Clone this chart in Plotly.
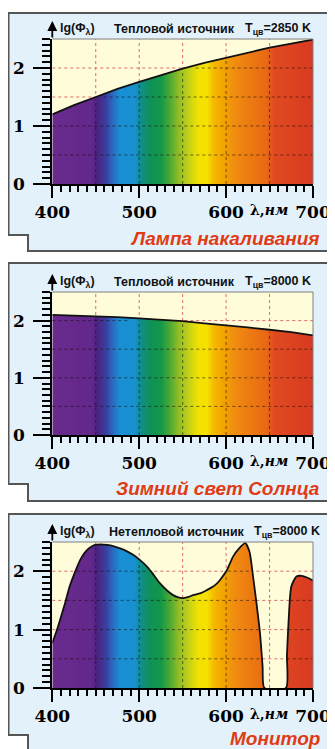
import numpy as np
import plotly.graph_objects as go

# the page body has an 8px margin, so the figure is drawn 8px smaller and offset
OFF = 8
W, H = 335 - OFF, 749 - OFF

# ---------------- data ----------------
lamp_wl = [400, 425, 450, 475, 500, 525, 550, 575, 600, 625, 650, 675, 700]
lamp_lg = [1.20, 1.36, 1.50, 1.64, 1.76, 1.88, 1.99, 2.09, 2.18, 2.27, 2.35, 2.42, 2.49]

sun_wl = [400, 425, 450, 475, 500, 525, 550, 575, 600, 625, 650, 675, 700]
sun_lg = [2.10, 2.09, 2.08, 2.06, 2.04, 2.02, 1.99, 1.95, 1.92, 1.88, 1.84, 1.80, 1.74]

mon_wl = [400, 405, 409, 415, 420, 426, 432, 437, 442, 449, 456, 463, 470, 478, 486,
          493, 501, 509, 516, 524, 532, 539, 545, 551, 557, 562, 570, 576, 582, 588,
          593, 601, 608, 615, 622, 627, 631, 635, 639, 642, 644, 669, 670, 672, 675,
          681, 687, 695, 700]
mon_lg = [0.77, 0.98, 1.17, 1.47, 1.74, 1.98, 2.19, 2.31, 2.39, 2.45, 2.46, 2.45, 2.43, 2.39, 2.34,
          2.28, 2.19, 2.08, 1.95, 1.79, 1.67, 1.59, 1.55, 1.54, 1.56, 1.59, 1.62, 1.66, 1.71, 1.77,
          1.85, 2.02, 2.25, 2.39, 2.48, 2.33, 1.91, 1.45, 0.94, 0.37, 0.0, 0.0, 0.55, 1.17, 1.74,
          1.91, 1.92, 1.88, 1.84]

x_ticks = [400, 500, 600, 700]
y_ticks = [0, 1, 2]
grid_x = [450, 500, 550, 600, 650]
grid_y = [0.5, 1.0, 1.5, 2.0]

titles = ["Тепловой источник", "Тепловой источник", "Нетепловой источник"]
temps = ["2850", "8000", "8000"]
captions = ["Лампа накаливания", "Зимний свет Солнца", "Монитор"]

# spectrum colour stops (wavelength nm, colour)
spec_stops = [(400, "#6a2a8e"), (445, "#62288a"), (452, "#4a2482"), (462, "#3a3fa0"),
              (470, "#2a6cc0"), (478, "#1a8fd5"), (495, "#1890d0"), (502, "#0f8f8a"),
              (512, "#10905a"), (525, "#129848"), (535, "#4aa835"), (545, "#90bc25"),
              (558, "#c8d218"), (568, "#f0e200"), (578, "#f8e000"), (586, "#f5b800"),
              (598, "#f2a200"), (610, "#f08c10"), (630, "#eb7812"), (646, "#e86a14"),
              (656, "#e04a20"), (700, "#d83a22")]

# ---------------- layout geometry (window pixels) ----------------
PX0, PX1 = 52.3, 313.0
plots = [(39, 184), (292, 435), (542, 688)]          # plot-area top / bottom
frames = [(13, 235, 251), (263, 484, 501), (514, 735, 760)]  # top, notch, bottom
caption_y = [238, 488, 738]
FL, FR, FN = 8.5, 333, 28

def X(px):
    return (px - OFF) / W

def Y(py):
    return 1 - (py - OFF) / H

YMAX = 2.5
colorscale = [[(w - 400) / 300, c] for w, c in spec_stops]

fig = go.Figure()
shapes = []
annotations = []

series = [(lamp_wl, lamp_lg, "linear"), (sun_wl, sun_lg, "linear"), (mon_wl, mon_lg, "spline")]

for i, ((wl, lg, shp), (pt, pb), (ft, fn, fb)) in enumerate(zip(series, plots, frames)):
    xa = "x" if i == 0 else f"x{i+1}"
    ya = "y" if i == 0 else f"y{i+1}"

    # panel frame (light blue, notched)
    shapes.append(dict(type="path", xref="paper", yref="paper", layer="below",
                       path=f"M {X(FL)},{Y(ft)} L {X(FR)},{Y(ft)} L {X(FR)},{Y(fb)} "
                            f"L {X(FN)},{Y(fb)} L {X(FN)},{Y(fn)} L {X(FL)},{Y(fn)} Z",
                       fillcolor="#e3f1fb", line=dict(color="#555555", width=2)))
    # plot area (cream)
    shapes.append(dict(type="rect", xref="paper", yref="paper", layer="below",
                       x0=X(PX0), x1=X(PX1), y0=Y(pb), y1=Y(pt),
                       fillcolor="#fffcda", line=dict(width=0)))
    # thin grey border top/right
    shapes.append(dict(type="path", xref="paper", yref="paper", layer="above",
                       path=f"M {X(PX0)},{Y(pt)} L {X(PX1)},{Y(pt)} L {X(PX1)},{Y(pb)}",
                       line=dict(color="#808080", width=1)))

    # red dotted grid (full)
    gx, gy = [], []
    for g in grid_x:
        gx += [g, g, None]
        gy += [0, YMAX, None]
    for g in grid_y:
        gx += [400, 700, None]
        gy += [g, g, None]
    fig.add_trace(go.Scatter(x=gx, y=gy, mode="lines", xaxis=xa, yaxis=ya,
                             line=dict(color="#e06a6a", width=1, dash="dot"),
                             hoverinfo="skip", showlegend=False))

    # spectrum fill under the curve
    fig.add_trace(go.Scatter(x=wl, y=lg, mode="lines", xaxis=xa, yaxis=ya,
                             line=dict(width=0, shape=shp, smoothing=0.6),
                             fill="tozeroy",
                             fillgradient=dict(type="horizontal", colorscale=colorscale,
                                               start=400, stop=700),
                             hoverinfo="skip", showlegend=False))

    # dark dotted grid inside the spectrum (decoration)
    fine = np.linspace(400, 700, 1201)
    cf = np.interp(fine, wl, lg)
    bx, by = [], []
    for g in grid_x:
        top = float(np.interp(g, wl, lg)) - 0.04
        if top > 0:
            bx += [g, g, None]
            by += [0, top, None]
    for g in grid_y:
        inside = cf >= g + 0.05
        run = None
        for k, ok in enumerate(inside):
            if ok and run is None:
                run = fine[k]
            if (not ok or k == len(inside) - 1) and run is not None:
                end = fine[k] if ok else fine[k - 1]
                bx += [run, end, None]
                by += [g, g, None]
                run = None
    fig.add_trace(go.Scatter(x=bx, y=by, mode="lines", xaxis=xa, yaxis=ya,
                             line=dict(color="rgba(20,10,10,0.55)", width=1, dash="dot"),
                             hoverinfo="skip", showlegend=False))

    # curve outline
    fig.add_trace(go.Scatter(x=wl, y=lg, mode="lines", xaxis=xa, yaxis=ya,
                             line=dict(color="#111111", width=1.8, shape=shp, smoothing=0.6),
                             hoverinfo="skip", showlegend=False))

    dom_x = [X(PX0), X(PX1)]
    dom_y = [Y(pb), Y(pt)]
    xkey = "xaxis" if i == 0 else f"xaxis{i+1}"
    ykey = "yaxis" if i == 0 else f"yaxis{i+1}"
    fig.update_layout(**{
        xkey: dict(domain=dom_x, anchor=ya, range=[400, 700], tickvals=x_ticks,
                   ticktext=[str(v) for v in x_ticks], ticks="outside", ticklen=12,
                   tickwidth=2, tickcolor="black", showline=True, linewidth=2,
                   linecolor="black", showgrid=False, zeroline=False, automargin=False,
                   tickfont=dict(family="DejaVu Serif", size=17, color="black", weight="bold"),
                   minor=dict(dtick=10, tick0=400, ticks="outside", ticklen=6, tickwidth=1.5,
                              tickcolor="black", showgrid=False),
                   fixedrange=True),
        ykey: dict(domain=dom_y, anchor=xa, range=[0, YMAX], tickvals=y_ticks,
                   ticktext=[str(v) for v in y_ticks], ticks="outside", ticklen=17,
                   tickwidth=2, tickcolor="black", showline=True, linewidth=2,
                   linecolor="black", showgrid=False, zeroline=False, automargin=False,
                   ticklabelstandoff=5,
                   tickfont=dict(family="DejaVu Serif", size=17, color="black", weight="bold"),
                   minor=dict(dtick=0.1, tick0=0, ticks="outside", ticklen=8, tickwidth=1.5,
                              tickcolor="black", showgrid=False),
                   fixedrange=True),
    })

    # y-axis arrow
    annotations.append(dict(xref="paper", yref="paper", x=X(PX0), y=Y(pt - 18),
                            ax=0, ay=18, text="", showarrow=True, arrowhead=2,
                            arrowsize=1.1, arrowwidth=1.8, arrowcolor="black"))
    # header texts
    ty = Y(pt - 10)
    hfont = dict(family="Liberation Sans", size=12.5, color="#111111", weight="bold")
    annotations.append(dict(xref="paper", yref="paper", x=X(58), y=ty, xanchor="left",
                            yanchor="middle", text="lg(Φ<sub>λ</sub>)", showarrow=False,
                            font=hfont))
    tx = 107 if i == 2 else 112
    annotations.append(dict(xref="paper", yref="paper", x=X(tx), y=ty, xanchor="left",
                            yanchor="middle", text=titles[i], showarrow=False, font=hfont))
    annotations.append(dict(xref="paper", yref="paper", x=X(PX1 + (9 if i == 2 else 0)), y=ty,
                            xanchor="right", yanchor="middle",
                            text=f"T<sub>цв</sub>={temps[i]} K", showarrow=False, font=hfont))
    # x-axis label
    annotations.append(dict(xref="paper", yref="paper", x=X(269), y=Y(pb + 26),
                            xanchor="center", yanchor="middle", text="λ,<i>нм</i>",
                            showarrow=False,
                            font=dict(family="DejaVu Serif", size=14, color="black", weight="bold")))
    # caption
    annotations.append(dict(xref="paper", yref="paper", x=X(322), y=Y(caption_y[i]),
                            xanchor="right", yanchor="middle", text=f"<i>{captions[i]}</i>",
                            showarrow=False,
                            font=dict(family="Liberation Sans", size=19, color="#e03c14",
                                      weight="bold")))

fig.update_layout(width=W, height=H, margin=dict(l=0, r=0, t=0, b=0, autoexpand=False),
                  paper_bgcolor="white", plot_bgcolor="rgba(0,0,0,0)",
                  showlegend=False, shapes=shapes, annotations=annotations)

fig.write_html("out.html")
